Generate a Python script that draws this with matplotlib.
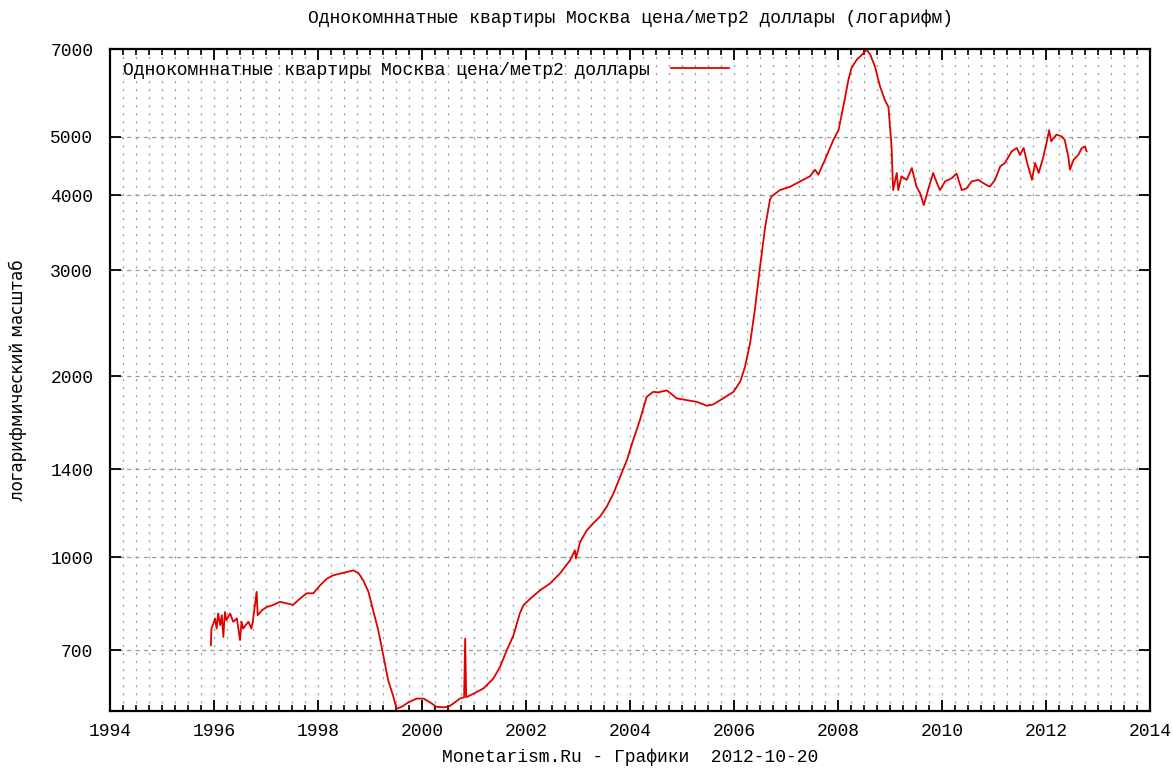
import matplotlib
matplotlib.use("Agg")
import matplotlib.pyplot as plt
from matplotlib.ticker import FixedLocator, NullLocator, MultipleLocator

plt.rcParams['lines.scale_dashes'] = False

title = "Однокомннатные квартиры Москва цена/метр2 доллары (логарифм)"
series_label = "Однокомннатные квартиры Москва цена/метр2 доллары"
ylabel = "логарифмический масштаб"
xlabel = "Monetarism.Ru - Графики  2012-10-20"

y_ticks = [700, 1000, 1400, 2000, 3000, 4000, 5000, 7000]
x_ticks = [1994, 1996, 1998, 2000, 2002, 2004, 2006, 2008, 2010, 2012, 2014]

years = [
    1995.94, 1995.95, 1995.99, 1996.02, 1996.05, 1996.08, 1996.12, 1996.15, 1996.18, 1996.21,
    1996.24, 1996.31, 1996.37, 1996.44, 1996.50, 1996.53, 1996.56, 1996.66, 1996.72, 1996.75,
    1996.82, 1996.84, 1996.92, 1997.02, 1997.14, 1997.27, 1997.40, 1997.52, 1997.65, 1997.78,
    1997.91, 1998.04, 1998.17, 1998.29, 1998.42, 1998.55, 1998.68, 1998.78, 1998.87, 1998.97,
    1999.06, 1999.16, 1999.26, 1999.35, 1999.45, 1999.51, 1999.61, 1999.74, 1999.90, 2000.03,
    2000.15, 2000.28, 2000.41, 2000.51, 2000.60, 2000.73, 2000.81, 2000.83, 2000.85, 2000.99,
    2001.18, 2001.37, 2001.50, 2001.63, 2001.76, 2001.88, 2001.95, 2002.08, 2002.27, 2002.46,
    2002.65, 2002.85, 2002.94, 2002.96, 2003.04, 2003.17, 2003.29, 2003.42, 2003.55, 2003.68,
    2003.81, 2003.94, 2004.06, 2004.19, 2004.32, 2004.45, 2004.54, 2004.71, 2004.90, 2005.09,
    2005.28, 2005.48, 2005.60, 2005.79, 2005.99, 2006.12, 2006.21, 2006.31, 2006.40, 2006.50,
    2006.60, 2006.69, 2006.72, 2006.88, 2007.08, 2007.27, 2007.46, 2007.56, 2007.62, 2007.75,
    2007.91, 2008.01, 2008.10, 2008.20, 2008.26, 2008.36, 2008.49, 2008.55, 2008.62, 2008.71,
    2008.81, 2008.90, 2008.97, 2009.00, 2009.03, 2009.06, 2009.13, 2009.16, 2009.22, 2009.32,
    2009.42, 2009.51, 2009.58, 2009.65, 2009.73, 2009.83, 2009.89, 2009.96, 2010.06, 2010.19,
    2010.28, 2010.38, 2010.47, 2010.57, 2010.70, 2010.79, 2010.92, 2011.02, 2011.12, 2011.21,
    2011.34, 2011.44, 2011.50, 2011.57, 2011.63, 2011.73, 2011.79, 2011.86, 2011.95, 2012.01,
    2012.06, 2012.10, 2012.20, 2012.30, 2012.36, 2012.43, 2012.46, 2012.53, 2012.62, 2012.69,
    2012.75, 2012.78,
]

prices = [
    714, 761, 776, 791, 761, 806, 771, 801, 737, 811,
    786, 806, 781, 791, 728, 781, 761, 781, 761, 786,
    876, 801, 816, 827, 833, 843, 838, 833, 853, 871,
    871, 898, 921, 933, 939, 945, 951, 941, 915, 876,
    816, 756, 683, 624, 586, 560, 564, 574, 582, 582,
    574, 564, 563, 564, 571, 582, 585, 732, 585, 593,
    605, 628, 657, 700, 742, 806, 832, 853, 881, 904,
    939, 989, 1027, 995, 1060, 1109, 1138, 1167, 1212, 1276,
    1360, 1450, 1565, 1690, 1848, 1884, 1880, 1894, 1837, 1825,
    1813, 1786, 1795, 1837, 1884, 1959, 2071, 2270, 2576, 3037,
    3545, 3925, 3977, 4078, 4131, 4216, 4299, 4410, 4327, 4581,
    4941, 5129, 5605, 6221, 6509, 6717, 6888, 6980, 6850, 6550,
    6060, 5760, 5605, 5196, 4818, 4078, 4355, 4078, 4299, 4242,
    4438, 4131, 4028, 3850, 4078, 4355, 4216, 4078, 4216, 4270,
    4345, 4078, 4105, 4216, 4242, 4190, 4131, 4242, 4466, 4524,
    4730, 4792, 4665, 4792, 4554, 4242, 4524, 4355, 4635, 4885,
    5129, 4915, 5043, 5010, 4941, 4635, 4410, 4581, 4665, 4792,
    4820, 4730,
]

FONT = "Liberation Mono"

fig = plt.figure(figsize=(11.73, 7.68), dpi=100)
ax = fig.add_axes([110/1173, 57/768, 1040/1173, 662/768])

ax.set_yscale('log')
ax.set_xlim(1994, 2014)
ax.set_ylim(555, 7000)

ax.plot(years, prices, color='#e00000', lw=1.3, label=series_label)

# ticks
ax.yaxis.set_major_locator(FixedLocator(y_ticks))
ax.yaxis.set_minor_locator(NullLocator())
ax.set_yticklabels([str(v) for v in y_ticks])
ax.xaxis.set_major_locator(FixedLocator(x_ticks))
ax.xaxis.set_minor_locator(MultipleLocator(0.25))
ax.tick_params(axis='both', which='major', direction='in', length=8, width=1.3,
               top=True, right=True, labelsize=13, pad=9)
ax.tick_params(axis='x', which='minor', direction='in', length=4, width=1.2,
               top=True, bottom=True)
for lab in ax.get_xticklabels() + ax.get_yticklabels():
    lab.set_fontfamily(FONT)
ax.tick_params(axis='y', pad=12)

# grid
ax.grid(False)
for xv in [1994 + 0.25 * i for i in range(1, 80)]:
    ax.axvline(xv, color='#9a9a9a', lw=0.9, dashes=(1.5, 4.3), zorder=0.5)
for yv in y_ticks:
    ax.axhline(yv, color='#9a9a9a', lw=0.9, dashes=(3, 3), zorder=0.5)

for s in ax.spines.values():
    s.set_linewidth(1.6)

fig.text(630/1173, 1 - 18/768, title, ha='center', va='center', fontsize=13,
         family=FONT)
fig.text(630/1173, 1 - 757/768, xlabel, ha='center', va='center', fontsize=13,
         family=FONT)
fig.text(18/1173, 1 - 380/768, ylabel, ha='center', va='center', fontsize=12,
         rotation=90, family="DejaVu Sans")

leg = ax.legend(loc='upper left', frameon=False, markerfirst=False,
                handlelength=3.2, handletextpad=1.2, borderaxespad=0.3,
                prop={'family': FONT, 'size': 13})

fig.savefig("out.png", dpi=100, facecolor='white')
